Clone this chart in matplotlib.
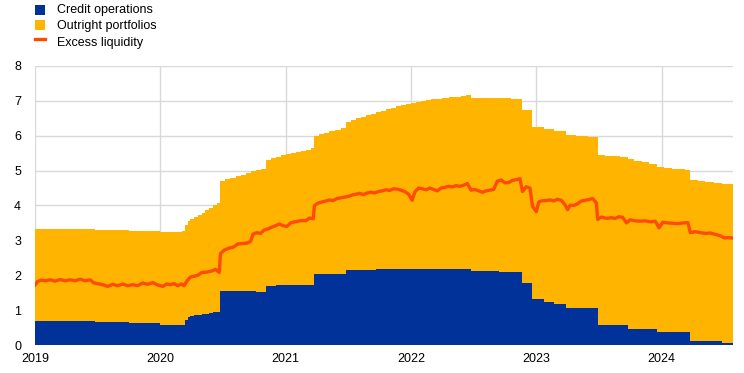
import matplotlib
matplotlib.use("Agg")
import matplotlib.pyplot as plt
from matplotlib.patches import Rectangle
from matplotlib.lines import Line2D

plt.rcParams['font.family'] = ['Liberation Sans', 'DejaVu Sans']

# ---- data (EUR trillions, decimal years) ----
stock_dates = [2019.00, 2019.25, 2019.48, 2019.65, 2019.75, 2019.90, 2020.00, 2020.10, 2020.17,
               2020.20, 2020.22, 2020.24, 2020.27, 2020.30, 2020.33, 2020.36, 2020.39, 2020.42,
               2020.45, 2020.48, 2020.52, 2020.56, 2020.60, 2020.64, 2020.68, 2020.72, 2020.76,
               2020.80, 2020.84, 2020.88, 2020.92, 2020.96, 2021.00, 2021.04, 2021.08, 2021.12,
               2021.16, 2021.20, 2021.23, 2021.27, 2021.31, 2021.35, 2021.39, 2021.44, 2021.48,
               2021.52, 2021.56, 2021.60, 2021.64, 2021.68, 2021.72, 2021.76, 2021.80, 2021.84,
               2021.88, 2021.92, 2021.96, 2022.00, 2022.04, 2022.08, 2022.12, 2022.16, 2022.20,
               2022.25, 2022.30, 2022.35, 2022.40, 2022.44, 2022.48, 2022.60, 2022.70, 2022.80,
               2022.89, 2022.97, 2023.06, 2023.14, 2023.24, 2023.32, 2023.41, 2023.49, 2023.55,
               2023.61, 2023.67, 2023.73, 2023.78, 2023.84, 2023.90, 2023.96, 2024.02, 2024.08,
               2024.14, 2024.19, 2024.23, 2024.29, 2024.35, 2024.42, 2024.48, 2024.57]
credit_operations = [0.70, 0.70, 0.67, 0.67, 0.63, 0.63, 0.58, 0.58, 0.58,
                     0.72, 0.80, 0.83, 0.85, 0.87, 0.88, 0.90, 0.92, 0.94,
                     0.96, 1.56, 1.56, 1.56, 1.56, 1.56, 1.56, 1.56, 1.53,
                     1.53, 1.69, 1.69, 1.71, 1.73, 1.73, 1.73, 1.73, 1.73,
                     1.73, 1.73, 2.03, 2.03, 2.03, 2.03, 2.03, 2.03, 2.15,
                     2.15, 2.15, 2.15, 2.15, 2.15, 2.18, 2.18, 2.18, 2.18,
                     2.18, 2.18, 2.18, 2.18, 2.18, 2.18, 2.18, 2.18, 2.18,
                     2.18, 2.18, 2.18, 2.18, 2.18, 2.12, 2.12, 2.10, 2.10,
                     1.78, 1.31, 1.24, 1.18, 1.07, 1.07, 1.07, 0.57, 0.57,
                     0.57, 0.57, 0.47, 0.47, 0.47, 0.47, 0.38, 0.38, 0.38,
                     0.38, 0.36, 0.12, 0.12, 0.12, 0.12, 0.05, 0.05]
# top of the stacked area (credit operations + outright portfolios)
stacked_total = [3.34, 3.33, 3.31, 3.29, 3.26, 3.27, 3.25, 3.24, 3.27,
                 3.45, 3.55, 3.62, 3.68, 3.73, 3.79, 3.86, 3.93, 4.00,
                 4.07, 4.71, 4.76, 4.80, 4.84, 4.88, 4.93, 4.98, 5.02,
                 5.06, 5.30, 5.35, 5.40, 5.44, 5.48, 5.51, 5.54, 5.57,
                 5.60, 5.64, 5.99, 6.04, 6.09, 6.13, 6.17, 6.21, 6.40,
                 6.45, 6.50, 6.55, 6.59, 6.63, 6.67, 6.71, 6.76, 6.80,
                 6.84, 6.87, 6.90, 6.93, 6.96, 6.99, 7.02, 7.04, 7.06,
                 7.08, 7.10, 7.12, 7.14, 7.16, 7.08, 7.07, 7.07, 7.06,
                 6.75, 6.26, 6.19, 6.15, 6.02, 6.00, 5.97, 5.46, 5.43,
                 5.41, 5.38, 5.33, 5.29, 5.24, 5.20, 5.11, 5.08, 5.06,
                 5.04, 5.01, 4.73, 4.70, 4.67, 4.65, 4.62, 4.58]
outright_portfolios = [t - c for t, c in zip(stacked_total, credit_operations)]

excess_dates = [2019.00, 2019.02, 2019.05, 2019.08, 2019.12, 2019.16, 2019.20, 2019.24, 2019.28,
                2019.32, 2019.36, 2019.40, 2019.44, 2019.47, 2019.50, 2019.54, 2019.58, 2019.62,
                2019.66, 2019.70, 2019.74, 2019.78, 2019.82, 2019.86, 2019.90, 2019.94, 2019.98,
                2020.02, 2020.05, 2020.08, 2020.11, 2020.14, 2020.17, 2020.19, 2020.21, 2020.24,
                2020.27, 2020.30, 2020.33, 2020.37, 2020.41, 2020.44, 2020.47, 2020.48, 2020.51,
                2020.55, 2020.58, 2020.62, 2020.66, 2020.69, 2020.72, 2020.74, 2020.77, 2020.80,
                2020.83, 2020.86, 2020.89, 2020.92, 2020.95, 2020.98, 2021.01, 2021.04, 2021.07,
                2021.10, 2021.13, 2021.16, 2021.19, 2021.22, 2021.23, 2021.26, 2021.29, 2021.32,
                2021.35, 2021.38, 2021.41, 2021.44, 2021.47, 2021.50, 2021.53, 2021.56, 2021.59,
                2021.62, 2021.65, 2021.68, 2021.71, 2021.74, 2021.77, 2021.80, 2021.83, 2021.86,
                2021.89, 2021.92, 2021.95, 2021.98, 2022.01, 2022.03, 2022.06, 2022.09, 2022.12,
                2022.15, 2022.18, 2022.21, 2022.24, 2022.27, 2022.30, 2022.33, 2022.36, 2022.39,
                2022.42, 2022.45, 2022.48, 2022.51, 2022.54, 2022.57, 2022.60, 2022.63, 2022.66,
                2022.69, 2022.72, 2022.75, 2022.78, 2022.81, 2022.84, 2022.87, 2022.89, 2022.92,
                2022.95, 2022.97, 2023.00, 2023.02, 2023.05, 2023.08, 2023.11, 2023.14, 2023.17,
                2023.20, 2023.23, 2023.25, 2023.27, 2023.30, 2023.33, 2023.36, 2023.39, 2023.42,
                2023.45, 2023.48, 2023.49, 2023.52, 2023.56, 2023.60, 2023.63, 2023.66, 2023.69,
                2023.72, 2023.75, 2023.79, 2023.83, 2023.87, 2023.91, 2023.95, 2023.98, 2024.01,
                2024.05, 2024.09, 2024.13, 2024.17, 2024.21, 2024.23, 2024.27, 2024.31, 2024.35,
                2024.39, 2024.43, 2024.47, 2024.50, 2024.53, 2024.56]
excess_liquidity = [1.72, 1.82, 1.86, 1.84, 1.87, 1.83, 1.88, 1.84, 1.87,
                    1.84, 1.89, 1.84, 1.87, 1.78, 1.76, 1.73, 1.68, 1.74,
                    1.70, 1.75, 1.70, 1.73, 1.70, 1.78, 1.74, 1.79, 1.72,
                    1.68, 1.75, 1.73, 1.76, 1.70, 1.75, 1.70, 1.82, 1.95,
                    1.97, 2.00, 2.08, 2.09, 2.12, 2.17, 2.08, 2.62, 2.72,
                    2.78, 2.80, 2.90, 2.91, 2.92, 2.97, 3.18, 3.22, 3.20,
                    3.30, 3.33, 3.38, 3.42, 3.47, 3.42, 3.40, 3.50, 3.53,
                    3.55, 3.57, 3.56, 3.64, 3.62, 4.00, 4.07, 4.10, 4.13,
                    4.16, 4.14, 4.20, 4.22, 4.24, 4.26, 4.30, 4.32, 4.35,
                    4.31, 4.36, 4.38, 4.36, 4.40, 4.42, 4.45, 4.43, 4.48,
                    4.47, 4.44, 4.40, 4.33, 4.15, 4.38, 4.50, 4.48, 4.45,
                    4.50, 4.46, 4.42, 4.50, 4.52, 4.55, 4.53, 4.57, 4.55,
                    4.58, 4.63, 4.44, 4.46, 4.42, 4.38, 4.42, 4.44, 4.46,
                    4.70, 4.73, 4.65, 4.66, 4.72, 4.74, 4.77, 4.40, 4.54,
                    4.50, 3.98, 3.82, 4.10, 4.14, 4.14, 4.16, 4.13, 4.18,
                    4.15, 4.02, 3.88, 4.01, 4.00, 4.05, 4.13, 4.15, 4.17,
                    4.20, 4.07, 3.60, 3.67, 3.63, 3.65, 3.63, 3.68, 3.66,
                    3.50, 3.59, 3.56, 3.55, 3.56, 3.53, 3.55, 3.36, 3.52,
                    3.50, 3.49, 3.48, 3.50, 3.51, 3.22, 3.25, 3.22, 3.20,
                    3.21, 3.17, 3.13, 3.07, 3.08, 3.07]

year_ticks = [2019, 2020, 2021, 2022, 2023, 2024]
year_labels = ["2019", "2020", "2021", "2022", "2023", "2024"]
y_ticks = [0, 1, 2, 3, 4, 5, 6, 7, 8]

legend_labels = ["Credit operations", "Outright portfolios", "Excess liquidity"]

BLUE = "#003299"
YELLOW = "#FFB400"
RED = "#FF4B00"
GRID = "#D9D9D9"

W, H = 744, 373
fig = plt.figure(figsize=(W / 100, H / 100), dpi=100)
ax = fig.add_axes([35 / W, 1 - 345 / H, (733 - 35) / W, (345 - 66) / H])

upper = [c + o for c, o in zip(credit_operations, outright_portfolios)]
ax.fill_between(stock_dates, 0, credit_operations, step="post", color=BLUE, linewidth=0, zorder=2)
ax.fill_between(stock_dates, credit_operations, upper, step="post", color=YELLOW, linewidth=0, zorder=2)
ax.plot(excess_dates, excess_liquidity, color=RED, linewidth=2.4, solid_joinstyle="round", zorder=3)

ax.set_xlim(2019, stock_dates[-1])
ax.set_ylim(0, 8)
ax.set_xticks(year_ticks)
ax.set_xticklabels(year_labels)
ax.set_yticks(y_ticks)
ax.grid(True, color=GRID, linewidth=1.0, zorder=0)
ax.set_axisbelow(True)
for s in ax.spines.values():
    s.set_visible(False)
ax.tick_params(axis="both", length=0, labelsize=9, colors="#000000")
ax.tick_params(axis="y", pad=10)
ax.tick_params(axis="x", pad=6)

# legend
fig.patches.append(Rectangle((35 / W, 1 - 15 / H), 10 / W, 10 / H, transform=fig.transFigure,
                             facecolor=BLUE, edgecolor="none"))
fig.patches.append(Rectangle((35 / W, 1 - 30 / H), 10 / W, 10 / H, transform=fig.transFigure,
                             facecolor=YELLOW, edgecolor="none"))
fig.lines.append(Line2D([35 / W, 45 / W], [1 - 38.5 / H, 1 - 38.5 / H], transform=fig.transFigure,
                        color=RED, linewidth=2.4))
for i, lab in enumerate(legend_labels):
    fig.text(57 / W, 1 - (10 + 16.5 * i) / H, lab, fontsize=9, va="center", ha="left")

fig.savefig("out.png", dpi=100)
